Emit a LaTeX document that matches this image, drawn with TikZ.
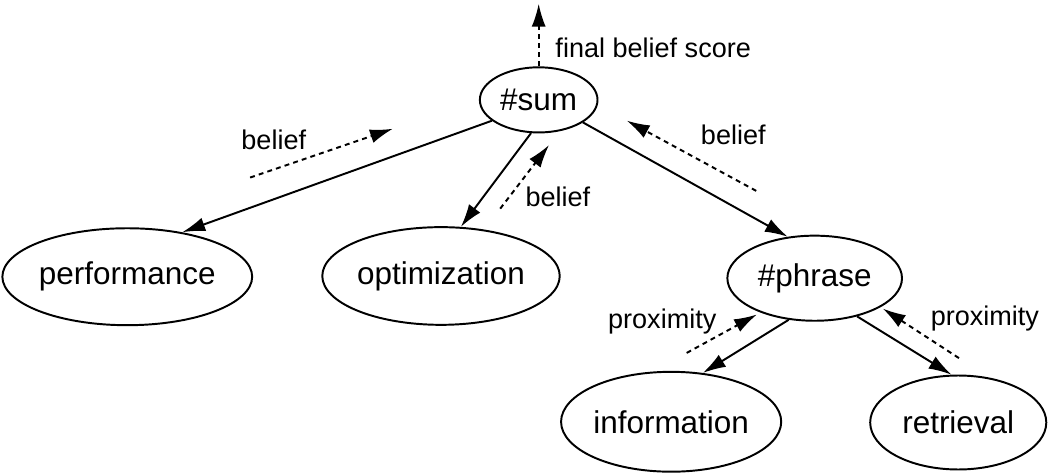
\documentclass[tikz,border=0pt]{standalone}
\usepackage{fontspec}
\setmainfont{Liberation Sans}
\usetikzlibrary{shapes.geometric,arrows.meta}

\begin{document}
\begin{tikzpicture}[
    term/.style={draw, ellipse, line width=0.75pt, inner sep=0pt,
                 font=\fontsize{12.1}{14}\selectfont},
    link/.style={line width=0.75pt, -{Latex[length=3.1mm,width=1.9mm]}},
    msg/.style={link, dash pattern=on 1.9pt off 1.6pt},
    lbl/.style={font=\fontsize{10.4}{12}\selectfont, inner sep=0pt}]
  \useasboundingbox (0,0) rectangle (14.19,6.39);

  %% operators
  \node[term, minimum width=1.59cm, minimum height=0.88cm] (sum) at (7.28,5.04) {\#sum};
  \node[term, minimum width=2.36cm, minimum height=1.15cm] (phrase) at (11.01,2.63) {\#phrase};

  %% terms
  \node[term, minimum width=3.12cm, minimum height=1.31cm] (perf) at (1.72,2.65) {performance};
  \node[term, minimum width=3.09cm, minimum height=1.32cm] (optim) at (5.96,2.66) {optimization};
  \node[term, minimum width=2.92cm, minimum height=1.35cm] (info) at (9.07,0.69) {information};
  \node[term, minimum width=2.38cm, minimum height=1.27cm] (retr) at (12.95,0.68) {retrieval};

  %% tree edges
  \draw[link] (sum.204.6) -- (perf.39);
  \draw[link] (sum.257.7) -- (optim.68);
  \draw[link] (sum.333) -- (phrase.123.4);
  \draw[link] (phrase.238.6) -- (info.57.9);
  \draw[link] (phrase.318) -- (retr.98);

  %% message ends
  \coordinate (top) at (7.28,6.34);
  \coordinate (b1s) at (3.38,3.99);  \coordinate (b1e) at (5.31,4.65);
  \coordinate (b2s) at (6.76,3.57);  \coordinate (b2e) at (7.42,4.43);
  \coordinate (b3s) at (10.22,3.81); \coordinate (b3e) at (8.47,4.76);
  \coordinate (p1s) at (9.28,1.62);  \coordinate (p1e) at (10.23,2.14);
  \coordinate (p2s) at (12.96,1.55); \coordinate (p2e) at (11.93,2.22);

  %% messages passed upward
  \draw[msg] (sum.north) -- (top);
  \draw[msg] (b1s) -- (b1e);
  \draw[msg] (b2s) -- (b2e);
  \draw[msg] (b3s) -- (b3e);
  \draw[msg] (p1s) -- (p1e);
  \draw[msg] (p2s) -- (p2e);

  %% labels
  \node[lbl, anchor=west] (score) at (7.50,5.74) {final belief score};
  \node[lbl] (bel1) at (3.70,4.50) {belief};
  \node[lbl] (bel2) at (7.54,3.73) {belief};
  \node[lbl] (bel3) at (9.91,4.57) {belief};
  \node[lbl] (prox1) at (8.95,2.05) {proximity};
  \node[lbl] (prox2) at (13.31,2.08) {proximity};

\end{tikzpicture}
\end{document}
